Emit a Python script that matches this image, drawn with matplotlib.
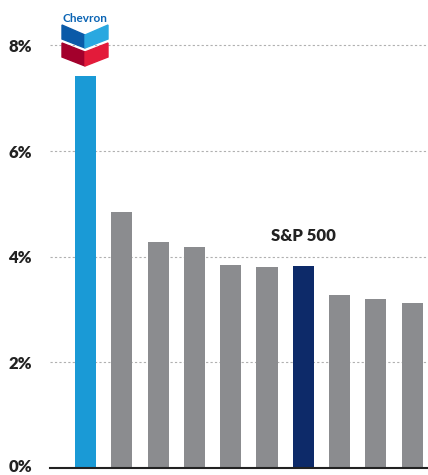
import matplotlib
matplotlib.use("Agg")
import matplotlib.pyplot as plt
import matplotlib.transforms as mtransforms
from matplotlib.patches import Polygon

# bar values in percent, Chevron first, S&P 500 seventh
labels = ['Chevron', 'P2', 'P3', 'P4', 'P5', 'P6', 'S&P 500', 'P8', 'P9', 'P10']
values = [7.42, 4.85, 4.28, 4.19, 3.84, 3.80, 3.83, 3.28, 3.20, 3.13]
colors = ['#1a9ad6'] + ['#8b8c8f'] * 5 + ['#0d2a69'] + ['#8b8c8f'] * 3
yticks = [0, 2, 4, 6, 8]
ytick_labels = ['0%', '2%', '4%', '6%', '8%']

W, H = 428, 475
fig = plt.figure(figsize=(W / 100, H / 100), dpi=100)
ax = fig.add_axes([50 / W, 7 / H, 378 / W, 468 / H])

x = list(range(len(values)))
ax.bar(x, values, width=0.58, color=colors, zorder=3)
ax.set_xlim(-0.978, 9.435)
ax.set_ylim(0, 8.86)

for t in yticks[1:]:
    ax.axhline(t, color='#b0b0b0', lw=0.8, ls=(0, (2, 2)), zorder=1)
ax.axhline(0, color='#222222', lw=1.5, zorder=4, clip_on=False)
ax.set_yticks(yticks)
ax.set_yticklabels(ytick_labels, fontsize=12, fontweight='heavy', color='#222222', family='Lato')
ax.tick_params(axis='y', length=0, pad=13)
ax.set_xticks([])
for s in ax.spines.values():
    s.set_visible(False)
# nudge the 0% label up so it is not cut at the bottom edge
lab0 = ax.get_yticklabels()[0]
lab0.set_transform(lab0.get_transform() + mtransforms.ScaledTranslation(0, 2 / 100, fig.dpi_scale_trans))

ax.text(6, 4.25, 'S&P 500', ha='center', va='bottom', fontsize=12, fontweight='heavy',
        color='#222222', family='Lato')

# Chevron logo, drawn in pixel coordinates on an overlay
ov = fig.add_axes([0, 0, 1, 1])
ov.set_xlim(0, W)
ov.set_ylim(H, 0)
ov.axis('off')
ov.patch.set_alpha(0)
ov.text(85, 18, 'Chevron', ha='center', va='center', fontsize=8.5, fontweight='bold',
        color='#0a64b4', family='Lato')
ov.add_patch(Polygon([(62, 25), (85, 35), (85, 48), (62, 39)], closed=True, color='#0a5aa8'))
ov.add_patch(Polygon([(85, 35), (108, 25), (108, 39), (85, 48)], closed=True, color='#2aa8e0'))
ov.add_patch(Polygon([(62, 43), (85, 52), (85, 66), (62, 57)], closed=True, color='#a3002c'))
ov.add_patch(Polygon([(85, 52), (108, 43), (108, 57), (85, 66)], closed=True, color='#e31b3a'))

fig.savefig('out.png', dpi=100)
